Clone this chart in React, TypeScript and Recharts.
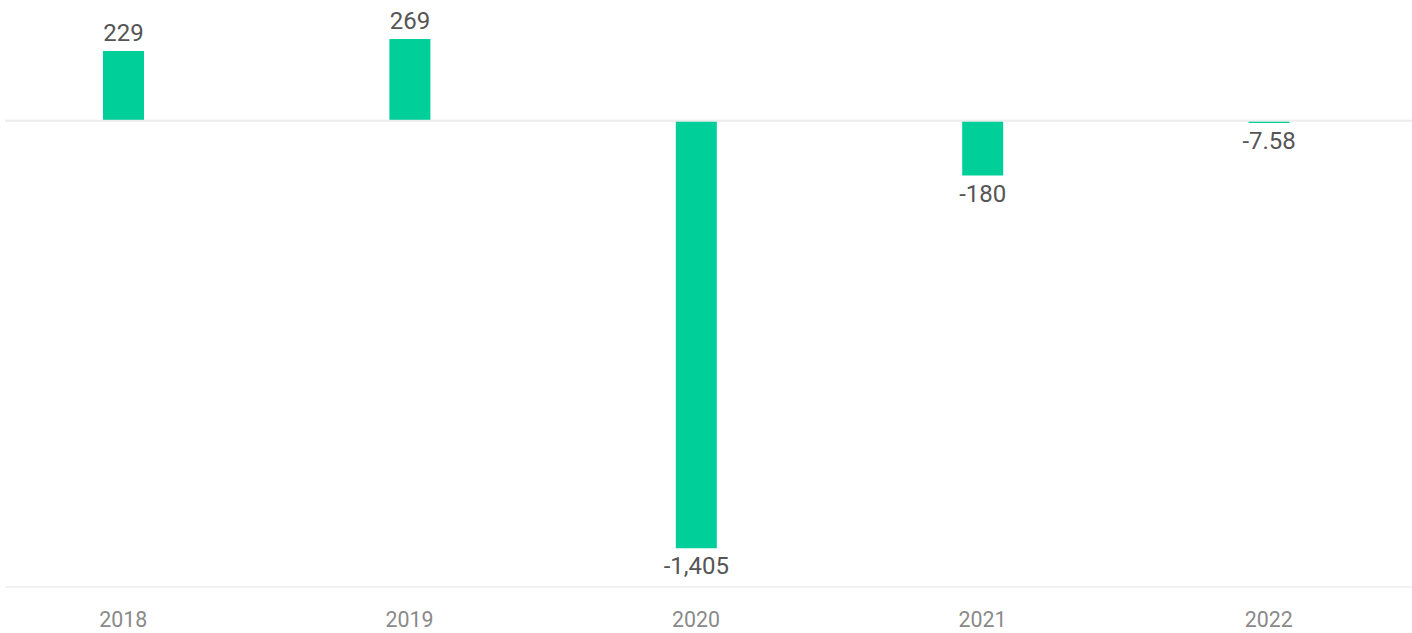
import { BarChart, Bar, XAxis, YAxis, ReferenceLine, LabelList } from 'recharts';

const years = ['2018', '2019', '2020', '2021', '2022'];
const values = [229, 269, -1405, -180, -7.58];

const data = years.map((year, i) => ({ year, value: values[i] }));

// value label: above for positive bars, below for negative ones
const ValueLabel = (props: any) => {
  const { x, y, width, height, value } = props;
  const top = Math.min(y, y + height);
  const bottom = Math.max(y, y + height);
  const cx = x + width / 2;
  const ty = value >= 0 ? top - 10 : bottom + 26;
  return (
    <text x={cx} y={ty} textAnchor="middle" fill="#555555" fontSize={24} fontFamily="Roboto, sans-serif">
      {Number(value).toLocaleString('en-US')}
    </text>
  );
};

const YearTick = (props: any) => {
  const { x, y, payload } = props;
  return (
    <text
      x={x}
      y={y + 40}
      textAnchor="middle"
      fill="#8a8a8a"
      fontSize={22}
      fontFamily="Roboto, sans-serif"
      textLength={48}
      lengthAdjust="spacingAndGlyphs"
    >
      {payload.value}
    </text>
  );
};

export default function App() {
  return (
    <div style={{ position: 'absolute', left: 0, top: 0, width: 1412, height: 633, overflow: 'hidden', background: '#fff' }}>
      <BarChart width={1412} height={633} data={data} margin={{ top: 0, right: 0, bottom: 0, left: 5 }}>
        <XAxis
          dataKey="year"
          height={46}
          axisLine={{ stroke: '#eeeeee', strokeWidth: 1.5 }}
          tickLine={false}
          tickSize={0}
          tickMargin={0}
          padding={{ left: -25, right: 0 }}
          tick={<YearTick />}
          interval={0}
        />
        <YAxis hide domain={[-1532, 397]} />
        <ReferenceLine y={0} stroke="#ececec" strokeWidth={2} />
        <Bar dataKey="value" fill="#00cf99" barSize={41} isAnimationActive={false}>
          <LabelList dataKey="value" content={<ValueLabel />} />
        </Bar>
      </BarChart>
    </div>
  );
}
